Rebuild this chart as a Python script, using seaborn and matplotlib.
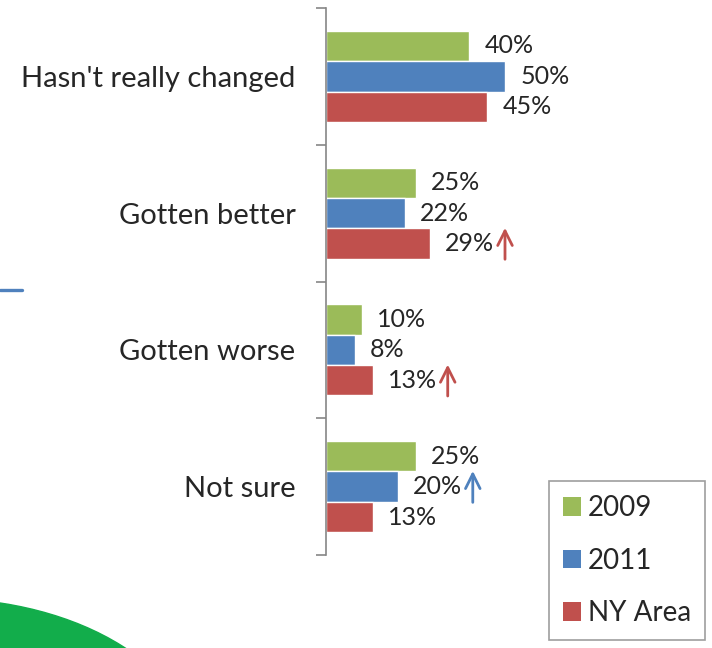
import pandas as pd
import matplotlib.pyplot as plt
import seaborn as sns
from matplotlib.patches import Ellipse, Patch
from matplotlib.lines import Line2D

sns.set_style("white")
plt.rcParams["font.family"] = ["Lato", "DejaVu Sans"]

# Adatok
categories = ["Hasn't really changed", "Gotten better", "Gotten worse", "Not sure"]
series = ["2009", "2011", "NY Area"]
v2009 = [40, 25, 10, 25]
v2011 = [50, 22, 8, 20]
vny = [45, 29, 13, 13]
colors = ["#9BBB59", "#4F81BD", "#C0504D"]
# (kategória, sorozat) ahol felfelé nyíl van
arrows = [("Gotten better", "NY Area"), ("Gotten worse", "NY Area"), ("Not sure", "2011")]

rows = []
for s, vals in zip(series, [v2009, v2011, vny]):
    for c, v in zip(categories, vals):
        rows.append({"cat": c, "series": s, "value": v})
df = pd.DataFrame(rows)

fig = plt.figure(figsize=(7.12, 6.48), dpi=100)
ax = fig.add_axes([326 / 712, 1 - 555 / 648, 386 / 712, 547 / 648])

sns.barplot(data=df, x="value", y="cat", hue="series", palette=colors,
            width=0.667, saturation=1, orient="h", ax=ax, legend=False)

for cont, s in zip(ax.containers, series):
    vals = df[df["series"] == s]["value"].tolist()
    ax.bar_label(cont, labels=[f"{v}%" for v in vals], padding=11, fontsize=18)

# nyilak
n = len(series)
bw = 0.667 / n
for c, s in arrows:
    i = categories.index(c)
    j = series.index(s)
    v = df[(df["cat"] == c) & (df["series"] == s)]["value"].iloc[0]
    y = i - 0.667 / 2 + bw * (j + 0.5)
    ax.annotate("", xy=(v + 21, y - 0.115), xytext=(v + 21, y + 0.115),
                arrowprops=dict(arrowstyle="->,head_length=0.7,head_width=0.35",
                                color=colors[j], lw=2, shrinkA=0, shrinkB=0,
                                mutation_scale=15))

ax.set_xlim(0, 386 / 3.58)
ax.set_ylim(len(categories) - 0.5, -0.5)
ax.set_xlabel("")
ax.set_ylabel("")
ax.set_xticks([])
ax.set_yticks(range(len(categories)))
ax.set_yticklabels(categories, fontsize=21)
ax.set_yticks([k - 0.5 for k in range(len(categories) + 1)], minor=True)
ax.tick_params(axis="y", which="major", length=0, pad=22)
ax.tick_params(axis="y", which="minor", length=7, width=1.2, color="#868686", direction="out", left=True)
for sp in ["top", "right", "bottom"]:
    ax.spines[sp].set_visible(False)
ax.spines["left"].set_color("#868686")
ax.spines["left"].set_linewidth(1.2)

# jelmagyarázat
handles = [Patch(facecolor=col, edgecolor="none") for col in colors]
leg = fig.legend(handles, series, loc="lower right", bbox_to_anchor=(705 / 712, 1 - 640 / 648),
                 fontsize=20, frameon=True, fancybox=False, edgecolor="#868686",
                 handlelength=0.65, handleheight=0.65, handletextpad=0.25, labelspacing=0.95,
                 borderpad=0.5, borderaxespad=0)
leg.get_frame().set_linewidth(1.2)

# díszítő elemek
fig.patches.append(Ellipse((-0.6, -1.12), 5.14, 3.23, color="#12AD4B",
                           transform=fig.dpi_scale_trans, figure=fig))
fig.lines.append(Line2D([0, 0.22], [3.58, 3.58], color="#4F81BD", lw=2.4,
                        transform=fig.dpi_scale_trans, figure=fig))

fig.savefig("out.png", dpi=100)
